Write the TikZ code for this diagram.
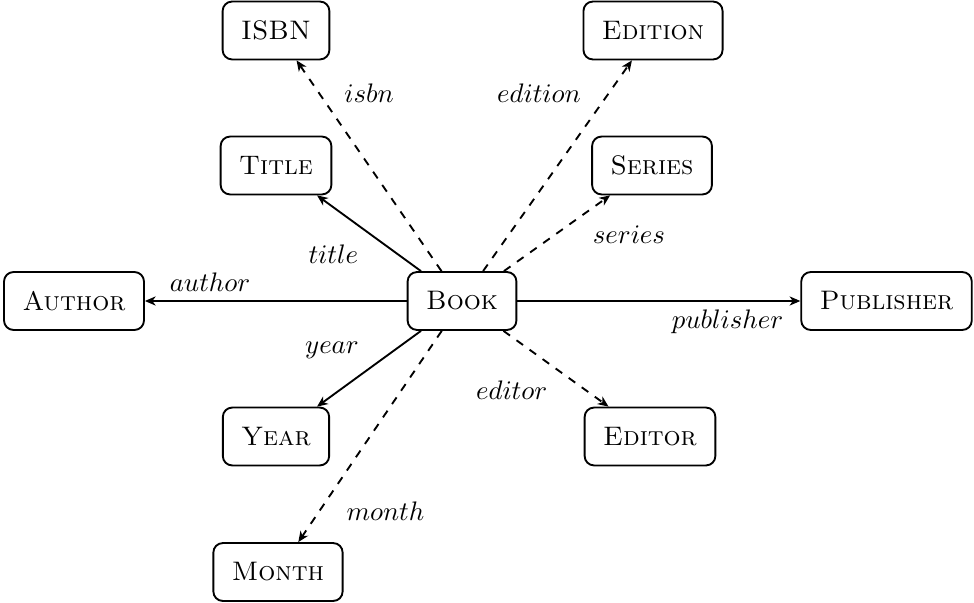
\documentclass[tikz,border=0pt]{standalone}
\usetikzlibrary{arrows.meta}
\begin{document}
\begin{tikzpicture}[
  x=0.37313pt, y=-0.37313pt,
  entity/.style={draw, rounded corners=3.5pt, line width=0.7pt,
    inner xsep=6.9pt, minimum height=21.6pt, font=\scshape},
  rel/.style={line width=0.7pt, -{Stealth[length=4pt,width=3.4pt,inset=1.2pt]}},
  opt/.style={rel, dashed},
  lbl/.style={anchor=base, inner sep=0pt}
]
\useasboundingbox (0,0) rectangle (974,603);

% entities
\node[entity] (book)      at (462,301)   {Book};
\node[entity] (author)    at (74,301)    {Author};
\node[entity] (publisher) at (886.5,301) {Publisher};
\node[entity] (isbn)      at (276,30.5)  {ISBN};
\node[entity] (title)     at (276,165.5) {Title};
\node[entity] (year)      at (276,436.5) {Year};
\node[entity] (month)     at (278,572)   {Month};
\node[entity] (edition)   at (653,30.5)  {Edition};
\node[entity] (series)    at (652,165.5) {Series};
\node[entity] (editor)    at (650,436.5) {Editor};

% required fields
\draw[rel] (book) -- (author);
\draw[rel] (book) -- (publisher);
\draw[rel] (book) -- (title);
\draw[rel] (book) -- (year);

% optional fields
\draw[opt] (book) -- (isbn);
\draw[opt] (book) -- (edition);
\draw[opt] (book) -- (series);
\draw[opt] (book) -- (editor);
\draw[opt] (book) -- (month);

% field names
\node[lbl] (l-author)    at (210,291.7)   {$author$};
\node[lbl] (l-publisher) at (727.5,328.3) {$publisher$};
\node[lbl] (l-title)     at (333.3,264)   {$title$};
\node[lbl] (l-year)      at (332,353)     {$year$};
\node[lbl] (l-isbn)      at (369,102.3)   {$isbn$};
\node[lbl] (l-edition)   at (539,102.3)   {$edition$};
\node[lbl] (l-series)    at (629,244)     {$series$};
\node[lbl] (l-editor)    at (511.7,399.3) {$editor$};
\node[lbl] (l-month)     at (385.5,520)   {$month$};
\end{tikzpicture}
\end{document}
